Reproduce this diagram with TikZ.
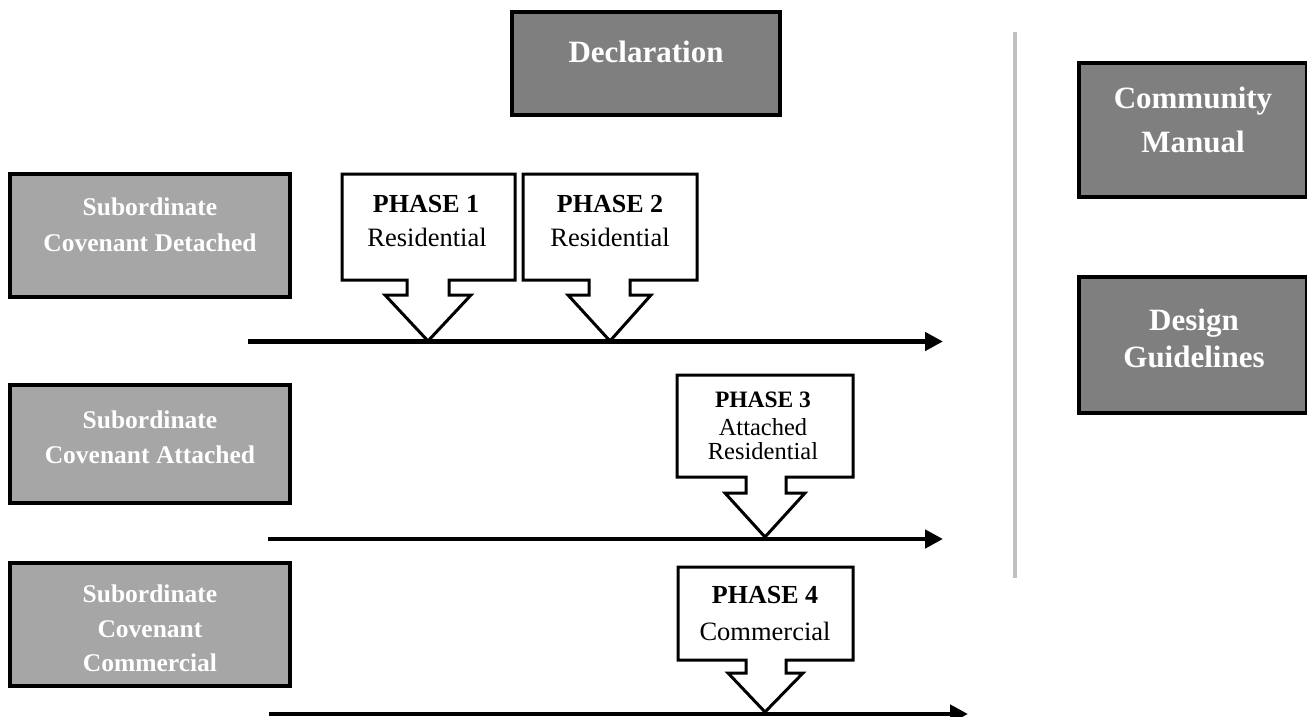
\documentclass[tikz,border=0pt]{standalone}
\usepackage{fontspec}
\setmainfont{Liberation Serif}
\usetikzlibrary{arrows.meta}

\definecolor{boxdark}{HTML}{7F7F7F}
\definecolor{boxlight}{HTML}{A6A6A6}
\definecolor{divider}{HTML}{C0C0C0}

\tikzset{
  darkbox/.style={draw=black, line width=4pt, fill=boxdark, inner sep=0pt},
  lightbox/.style={draw=black, line width=4pt, fill=boxlight, inner sep=0pt},
  bigtext/.style={text=white, anchor=base, inner sep=0pt, font=\fontsize{31}{37}\selectfont\bfseries},
  sidetext/.style={text=white, anchor=base, inner sep=0pt, font=\fontsize{25.5}{30}\selectfont\bfseries},
  phasehead/.style={anchor=base, inner sep=0pt, font=\fontsize{26}{30}\selectfont\bfseries},
  phasebody/.style={anchor=base, inner sep=0pt, font=\fontsize{26.5}{30}\selectfont},
  callout/.style={draw=black, line width=3pt, fill=white, line join=miter},
  timeline/.style={line width=4.5pt, -{Triangle[length=18pt,width=18pt]}},
}

\begin{document}
\begin{tikzpicture}[x=1pt,y=-1pt]
\useasboundingbox (0,0) rectangle (1307,717);

% divider between the phasing plan and the governing documents
\coordinate (divtop) at (1015,32);
\coordinate (divbot) at (1015,578);
\draw[divider, line width=4pt] (divtop) -- (divbot);

% governing documents
\node[darkbox, minimum width=268pt, minimum height=103pt] (decl) at (646,63.5) {};
\node[bigtext] (declT) at (646,63) {Declaration};

\node[darkbox, minimum width=228pt, minimum height=134pt] (manual) at (1193,130) {};
\node[bigtext] (manualA) at (1193,108) {Community};
\node[bigtext] (manualB) at (1193,152) {Manual};

\node[darkbox, minimum width=228pt, minimum height=136pt] (design) at (1193,345) {};
\node[bigtext] (designA) at (1194,330) {Design};
\node[bigtext] (designB) at (1194,367) {Guidelines};

% subordinate covenants
\node[lightbox, minimum width=280pt, minimum height=123pt] (detached) at (150,235.5) {};
\node[sidetext] (detachedA) at (150,215) {Subordinate};
\node[sidetext] (detachedB) at (150,251) {Covenant Detached};

\node[lightbox, minimum width=280pt, minimum height=118pt] (attached) at (150,444) {};
\node[sidetext] (attachedA) at (150,428) {Subordinate};
\node[sidetext] (attachedB) at (150,463) {Covenant Attached};

\node[lightbox, minimum width=280pt, minimum height=123pt] (commercial) at (150,624.5) {};
\node[sidetext] (commercialA) at (150,602) {Subordinate};
\node[sidetext] (commercialB) at (150,637) {Covenant};
\node[sidetext] (commercialC) at (150,671) {Commercial};

% timelines
\coordinate (tlAstart) at (248,341.5);
\coordinate (tlAend) at (943,341.5);
\coordinate (tlBstart) at (268,539);
\coordinate (tlBend) at (943,539);
\coordinate (tlCstart) at (269,714);
\coordinate (tlCend) at (968,714);
\draw[timeline] (tlAstart) -- (tlAend);
\draw[timeline] (tlBstart) -- (tlBend);
\draw[timeline] (tlCstart) -- (tlCend);

% phase callouts pointing down onto the timelines
\draw[callout] (342,174) -- (515,174) -- (515,280) -- (449,280) -- (449,295) -- (471,295)
  -- (428,341) -- (385,295) -- (407,295) -- (407,280) -- (342,280) -- cycle;
\node[phasehead] (p1A) at (426,212) {PHASE 1};
\node[phasebody] (p1B) at (427,246) {Residential};

\draw[callout] (523,174) -- (697,174) -- (697,280) -- (630,280) -- (630,295) -- (651,295)
  -- (610,341) -- (568,295) -- (589,295) -- (589,280) -- (523,280) -- cycle;
\node[phasehead] (p2A) at (610,212) {PHASE 2};
\node[phasebody] (p2B) at (610,246) {Residential};

\draw[callout] (677,375) -- (853,375) -- (853,477) -- (786,477) -- (786,493) -- (805,493)
  -- (765,537) -- (725,493) -- (746,493) -- (746,477) -- (677,477) -- cycle;
\node[phasehead, font=\fontsize{23.5}{28}\selectfont\bfseries] (p3A) at (763,407.5) {PHASE 3};
\node[phasebody, font=\fontsize{24.5}{28}\selectfont] (p3B) at (763,435) {Attached};
\node[phasebody, font=\fontsize{24.5}{28}\selectfont] (p3C) at (763,459) {Residential};

\draw[callout] (678,567) -- (853,567) -- (853,660) -- (786,660) -- (786,673) -- (803,673)
  -- (765,712) -- (728,673) -- (746,673) -- (746,660) -- (678,660) -- cycle;
\node[phasehead] (p4A) at (765,603) {PHASE 4};
\node[phasebody] (p4B) at (765,640) {Commercial};

\end{tikzpicture}
\end{document}
